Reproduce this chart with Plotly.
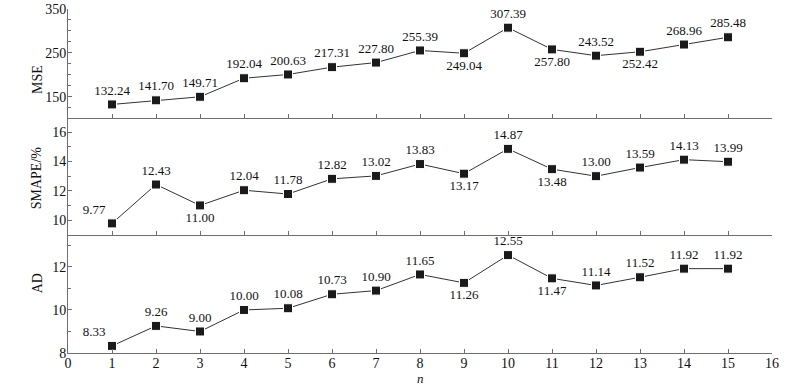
import plotly.graph_objects as go

n = list(range(1, 16))
mse = [132.24, 141.70, 149.71, 192.04, 200.63, 217.31, 227.80, 255.39, 249.04,
       307.39, 257.80, 243.52, 252.42, 268.96, 285.48]
smape = [9.77, 12.43, 11.00, 12.04, 11.78, 12.82, 13.02, 13.83, 13.17, 14.87,
         13.48, 13.00, 13.59, 14.13, 13.99]
ad = [8.33, 9.26, 9.00, 10.00, 10.08, 10.73, 10.90, 11.65, 11.26, 12.55,
      11.47, 11.14, 11.52, 11.92, 11.92]
x_ticks = list(range(0, 17))

T, B, TL = "top center", "bottom center", "top left"
mse_pos = [T, T, T, T, T, T, T, T, B, T, B, T, B, T, T]
smape_pos = [TL, T, B, T, T, T, T, T, B, T, B, T, T, T, T]
ad_pos = [TL, T, T, T, T, T, T, T, B, T, B, T, T, T, T]

FONT = "Liberation Serif"
AX = "#6e6e6e"

fig = go.Figure()
series = [(mse, mse_pos, "x", "y"), (smape, smape_pos, "x2", "y2"), (ad, ad_pos, "x3", "y3")]
for vals, pos, xa, ya in series:
    fig.add_trace(go.Scatter(
        x=n, y=vals, xaxis=xa, yaxis=ya, mode="lines+markers+text",
        line=dict(color="#333333", width=1),
        marker=dict(symbol="square", size=9, color="#1a1a1a",
                    line=dict(color="white", width=1)),
        texttemplate="%{y:.2f}", textposition=pos,
        textfont=dict(family=FONT, size=13, color="#111111"),
        cliponaxis=False, showlegend=False, hoverinfo="skip"))

def xaxis(anchor, labels):
    return dict(anchor=anchor, range=[0, 16], domain=[0, 1], tickvals=x_ticks,
                ticktext=[str(v) for v in x_ticks] if labels else None,
                showticklabels=labels, ticks="inside", ticklen=4, tickcolor=AX,
                ticklabelstandoff=-3, automargin=False,
                showline=True, linecolor=AX, linewidth=1, showgrid=False,
                zeroline=False, tickfont=dict(family=FONT, size=14, color="#111111"))

def yaxis(anchor, domain, rng, tick0, dtick, minor):
    return dict(anchor=anchor, domain=domain, range=rng, tick0=tick0, dtick=dtick,
                ticks="inside", ticklen=4, tickcolor=AX, ticklabelstandoff=-2,
                automargin=False, ticklabeloverflow="allow",
                minor=dict(ticks="inside", dtick=minor, ticklen=3, tickcolor=AX, tick0=tick0),
                showline=True, linecolor=AX, linewidth=1, showgrid=False,
                zeroline=False, tickfont=dict(family=FONT, size=14, color="#111111"))

fig.update_layout(
    width=800, height=385, margin=dict(l=68, r=28, t=9, b=32),
    plot_bgcolor="white", paper_bgcolor="white",
    xaxis=xaxis("y", False),
    xaxis2=xaxis("y2", False),
    xaxis3=xaxis("y3", True),
    yaxis=yaxis("x", [0.684, 1.0], [102, 350.01], 150, 100, 25),
    yaxis2=yaxis("x2", [0.344, 0.684], [9, 17], 10, 2, 1),
    yaxis3=yaxis("x3", [0.0, 0.344], [8, 13.5], 8, 2, 1),
)

titles = [("MSE", 0.843), ("SMAPE/%", 0.509), ("AD", 0.169)]
for txt, yp in titles:
    fig.add_annotation(text=txt, xref="paper", yref="paper", x=-0.057, y=yp,
                       textangle=-90, showarrow=False,
                       font=dict(family=FONT, size=14, color="#111111"))
fig.add_annotation(text="<i>n</i>", xref="paper", yref="paper", x=0.5, y=-0.074,
                   yanchor="middle", showarrow=False,
                   font=dict(family=FONT, size=13, color="#111111"))

# remove the default 8px page margin so the figure sits at the window's corner
fig.write_html("out.html", config={"displayModeBar": False},
               post_script="document.body.style.margin='0';")
